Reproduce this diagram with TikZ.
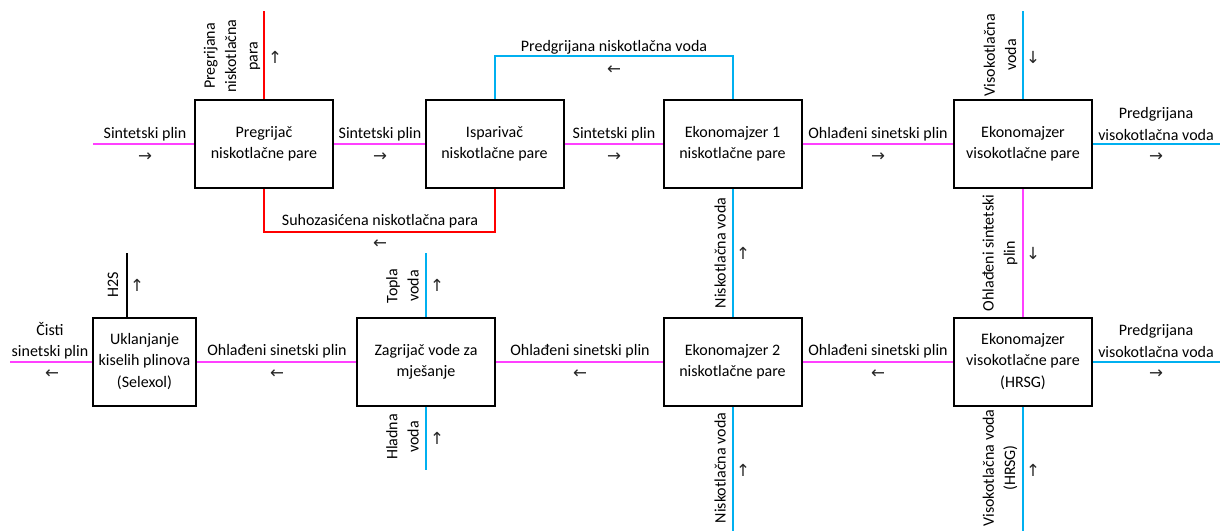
\documentclass[tikz,border=0pt]{standalone}
\usepackage{fontspec}
\setmainfont{Carlito}
\newfontfamily\arrfont{DejaVu Sans}
\definecolor{gas}{HTML}{FF40FF}
\definecolor{water}{HTML}{00B0F0}
\definecolor{steam}{HTML}{FF0000}
\begin{document}
\begin{tikzpicture}[x=0.75pt,y=-0.75pt,
  box/.style={draw,line width=1.5pt,minimum width=103.5pt,minimum height=66pt,inner sep=0pt,align=center,font=\fontsize{12}{16}\selectfont},
  lbl/.style={align=center,font=\fontsize{12}{16}\selectfont,inner sep=0pt},
  vlbl/.style={lbl,rotate=90},
  arw/.style={font=\arrfont\fontsize{12.5}{14}\selectfont,inner sep=0pt,text=black!85},
  gasl/.style={draw=gas,line width=1.5pt},
  watl/.style={draw=water,line width=1.5pt},
  stml/.style={draw=steam,line width=1.5pt},
  blkl/.style={draw=black,line width=1.5pt}]
\useasboundingbox (0,0) rectangle (1220,531);
% boxes
\node[box] (P)  at (264,144)   {Pregrijač\\niskotlačne pare};
\node[box] (I)  at (494.5,144) {Isparivač\\niskotlačne pare};
\node[box] (E1) at (732.5,144) {Ekonomajzer 1\\niskotlačne pare};
\node[box] (EV) at (1023,144)  {Ekonomajzer\\visokotlačne pare};
\node[box,minimum width=77.25pt] (U) at (144.5,361.5) {Uklanjanje\\kiselih plinova\\(Selexol)};
\node[box] (Z)  at (426,361.5) {Zagrijač vode za\\mješanje};
\node[box] (E2) at (732.5,361.5) {Ekonomajzer 2\\niskotlačne pare};
\node[box] (H)  at (1023,361.5) {Ekonomajzer\\visokotlačne pare\\(HRSG)};
% free ends
\coordinate (inS) at (93,144);
\coordinate (outT) at (264,11);
\coordinate (evIn) at (1023,11);
\coordinate (evOut) at (1220,144);
\coordinate (hOut) at (1220,361.5);
\coordinate (hIn) at (1023,531);
\coordinate (e2In) at (732.5,531);
\coordinate (clean) at (10,361.5);
\coordinate (h2s) at (127,253);
\coordinate (topla) at (426,253);
\coordinate (hladna) at (426,470);
% connectors
\draw[gasl] (inS) -- (P.west);
\draw[gasl] (P.east) -- (I.west);
\draw[gasl] (I.east) -- (E1.west);
\draw[gasl] (E1.east) -- (EV.west);
\draw[watl] (EV.east) -- (evOut);
\draw[stml] (P.north) -- (outT);
\draw[stml] (I.south) -- ++(0,43) -| (P.south);
\draw[watl] (E1.north) -- ++(0,-43) -| (I.north);
\draw[watl] (E1.south) -- (E2.north);
\draw[watl] (E2.south) -- (e2In);
\draw[watl] (EV.north) -- (evIn);
\draw[gasl] (EV.south) -- (H.north);
\draw[watl] (H.south) -- (hIn);
\draw[watl] (H.east) -- (hOut);
\draw[gasl] (H.west) -- (E2.east);
\draw[gasl] (E2.west) -- (Z.east);
\draw[gasl] (Z.west) -- (U.east);
\draw[gasl] (U.west) -- (clean);
\draw[blkl] (U.north -| h2s) -- (h2s);
\draw[watl] (Z.north) -- (topla);
\draw[watl] (Z.south) -- (hladna);
% labels
\node[lbl] (l1) at (145,134) {Sintetski plin};
\node[arw] (a1) at (145,157) {→};
\node[lbl] (l2) at (380,134) {Sintetski plin};
\node[arw] (a2) at (380,157) {→};
\node[lbl] (l3) at (614,134) {Sintetski plin};
\node[arw] (a3) at (614,157) {→};
\node[lbl] (l4) at (878,134) {Ohlađeni sinetski plin};
\node[arw] (a4) at (878,157) {→};
\node[lbl] (l5) at (1156,124) {Predgrijana\\visokotlačna voda};
\node[arw] (a5) at (1156,157) {→};
\node[lbl] (l6) at (614,47) {Predgrijana niskotlačna voda};
\node[arw] (a6) at (614,70) {←};
\node[lbl] (l7) at (380,221) {Suhozasićena niskotlačna para};
\node[arw] (a7) at (380,244) {←};
\node[vlbl] (l8) at (232,56) {Pregrijana\\niskotlačna\\para};
\node[arw] (a8) at (275,57) {↑};
\node[vlbl] (l9) at (1000,55) {Visokotlačna\\voda};
\node[arw] (a9) at (1033,57) {↓};
\node[vlbl] (l10) at (1000,253) {Ohlađeni sintetski\\plin};
\node[arw] (a10) at (1033,253) {↓};
\node[vlbl] (l11) at (720,253) {Niskotlačna voda};
\node[arw] (a11) at (743,253) {↑};
\node[vlbl] (l12) at (720,468) {Niskotlačna voda};
\node[arw] (a12) at (743,470) {↑};
\node[vlbl] (l13) at (1000,468) {Visokotlačna voda\\(HRSG)};
\node[arw] (a13) at (1033,470) {↑};
\node[vlbl] (l14) at (402.5,286) {Topla\\voda};
\node[arw] (a14) at (437,285) {↑};
\node[vlbl] (l15) at (402.5,437) {Hladna\\voda};
\node[arw] (a15) at (437,438) {↑};
\node[vlbl] (l16) at (113,285) {H2S};
\node[arw] (a16) at (137,285) {↑};
\node[lbl] (l17) at (50,341) {Čisti\\sinetski plin};
\node[arw] (a17) at (52,374) {←};
\node[lbl] (l18) at (277,351) {Ohlađeni sinetski plin};
\node[arw] (a18) at (277,374) {←};
\node[lbl] (l19) at (580,351) {Ohlađeni sinetski plin};
\node[arw] (a19) at (580,374) {←};
\node[lbl] (l20) at (878,351) {Ohlađeni sinetski plin};
\node[arw] (a20) at (878,374) {←};
\node[lbl] (l21) at (1156,341) {Predgrijana\\visokotlačna voda};
\node[arw] (a21) at (1156,374) {→};
\end{tikzpicture}
\end{document}
